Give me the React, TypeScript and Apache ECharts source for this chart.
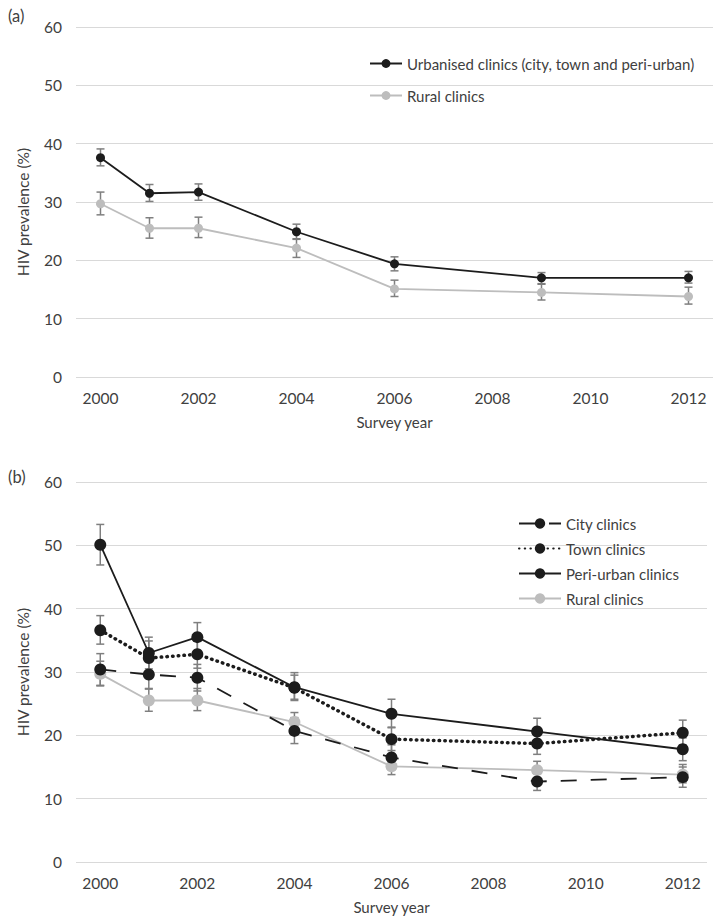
import React, { useEffect, useRef } from "react";
import * as echarts from "echarts";

// Axis categories (every year on the axis, labels on even years)
const allYears = ["2000", "2001", "2002", "2003", "2004", "2005", "2006", "2007", "2008", "2009", "2010", "2011", "2012"];
// Survey years with data
const surveyYears = ["2000", "2001", "2002", "2004", "2006", "2009", "2012"];

// Panel (a)
const urbanA = [37.6, 31.5, 31.7, 24.9, 19.4, 17.0, 17.0];
const urbanALow = [36.2, 30.1, 30.3, 23.7, 18.2, 16.0, 16.1];
const urbanAHigh = [39.1, 33.0, 33.1, 26.2, 20.6, 17.9, 18.1];
const rural = [29.7, 25.5, 25.5, 22.1, 15.1, 14.5, 13.8];
const ruralLow = [27.8, 23.8, 23.9, 20.5, 13.8, 13.2, 12.5];
const ruralHigh = [31.7, 27.3, 27.4, 23.6, 16.6, 15.9, 15.4];

// Panel (b)
const city = [30.4, 29.6, 29.1, 20.7, 16.5, 12.7, 13.4];
const cityLow = [27.9, 27.4, 27.0, 18.7, 14.6, 11.3, 11.8];
const cityHigh = [32.9, 31.8, 31.2, 22.8, 18.5, 14.2, 15.0];
const town = [36.6, 32.2, 32.8, 27.5, 19.4, 18.7, 20.4];
const townLow = [34.4, 29.6, 30.6, 25.5, 17.6, 17.0, 18.5];
const townHigh = [38.9, 34.9, 35.0, 29.5, 21.3, 20.5, 22.4];
const peri = [50.1, 33.0, 35.5, 27.6, 23.4, 20.6, 17.8];
const periLow = [46.9, 30.5, 33.2, 25.7, 21.2, 18.4, 16.0];
const periHigh = [53.3, 35.5, 37.8, 29.9, 25.7, 22.7, 19.6];

const yTicks = { min: 0, max: 60, interval: 10 };

const NAME_URBAN = "Urbanised clinics (city, town and peri-urban)";
const NAME_RURAL = "Rural clinics";
const NAME_CITY = "City clinics";
const NAME_TOWN = "Town clinics";
const NAME_PERI = "Peri-urban clinics";

const FONT = "Lato, 'Noto Sans', sans-serif";
const TEXT = "#404040";
const BLACK = "#1c1c1c";
const GREY = "#bdbdbd";
const ERR = "#7f7f7f";

function pairs(vals: number[]) {
  return surveyYears.map((y, i) => [y, vals[i]]);
}
function errData(low: number[], high: number[]) {
  return surveyYears.map((y, i) => [allYears.indexOf(y), low[i], high[i]]);
}

function errorSeries(idx: number, low: number[], high: number[], name: string) {
  return {
    type: "custom",
    name: name + " CI",
    xAxisIndex: idx,
    yAxisIndex: idx,
    z: 1,
    silent: true,
    encode: { x: 0, y: [1, 2] },
    data: errData(low, high),
    renderItem: (params: any, api: any) => {
      const x = api.value(0);
      const top = api.coord([x, api.value(2)]);
      const bot = api.coord([x, api.value(1)]);
      const hw = 4;
      const style = { stroke: ERR, lineWidth: 1.5 };
      return {
        type: "group",
        children: [
          { type: "line", shape: { x1: top[0], y1: top[1], x2: bot[0], y2: bot[1] }, style },
          { type: "line", shape: { x1: top[0] - hw, y1: top[1], x2: top[0] + hw, y2: top[1] }, style },
          { type: "line", shape: { x1: bot[0] - hw, y1: bot[1], x2: bot[0] + hw, y2: bot[1] }, style },
        ],
      };
    },
  };
}

function lineSeries(idx: number, name: string, vals: number[], color: string, size: number, lineStyle: any) {
  return {
    type: "line",
    name,
    xAxisIndex: idx,
    yAxisIndex: idx,
    z: 3,
    data: pairs(vals),
    symbol: "circle",
    symbolSize: size,
    itemStyle: { color },
    lineStyle: { color, width: 1.8, ...lineStyle },
  };
}

function xAxis(idx: number) {
  return {
    type: "category",
    gridIndex: idx,
    data: allYears,
    boundaryGap: true,
    axisLine: { show: false },
    axisTick: { show: false },
    axisLabel: { interval: 1, color: TEXT, fontSize: 15.5, fontFamily: FONT, margin: 13 },
    name: "Survey year",
    nameLocation: "middle",
    nameGap: 37,
    nameTextStyle: { color: TEXT, fontSize: 15, fontFamily: FONT },
  };
}

function yAxis(idx: number) {
  return {
    type: "value",
    gridIndex: idx,
    ...yTicks,
    axisLine: { show: false },
    axisTick: { show: false },
    splitLine: { lineStyle: { color: "#d9d9d9", width: 1 } },
    axisLabel: { color: TEXT, fontSize: 15.5, fontFamily: FONT, margin: 14 },
  };
}

export default function App() {
  const ref = useRef<HTMLDivElement>(null);
  useEffect(() => {
    if (!ref.current) return;
    const chart = echarts.init(ref.current, undefined, { renderer: "svg" });
    const legendText = { color: TEXT, fontSize: 15, fontFamily: FONT, lineHeight: 14 };
    chart.setOption({
      animation: false,
      backgroundColor: "#ffffff",
      grid: [
        { left: 76, top: 27, width: 637, height: 350 },
        { left: 76, top: 482, width: 631, height: 380 },
      ],
      xAxis: [xAxis(0), xAxis(1)],
      yAxis: [yAxis(0), yAxis(1)],
      legend: [
        {
          data: [NAME_URBAN, NAME_RURAL],
          orient: "vertical",
          left: 369,
          top: 56,
          padding: 0,
          itemWidth: 32,
          itemHeight: 11,
          itemGap: 17,
          textStyle: legendText,
          selectedMode: false,
        },
        {
          data: [NAME_CITY, NAME_TOWN, NAME_PERI, NAME_RURAL],
          orient: "vertical",
          left: 518,
          top: 516,
          padding: 0,
          itemWidth: 42,
          itemHeight: 13,
          itemGap: 10,
          textStyle: legendText,
          selectedMode: false,
        },
      ],
      graphic: [
        { type: "text", left: 8, top: 7, style: { text: "(a)", font: `16.5px ${FONT}`, fill: TEXT } },
        { type: "text", left: 8, top: 468, style: { text: "(b)", font: `16.5px ${FONT}`, fill: TEXT } },
        {
          type: "text",
          x: 23,
          y: 212,
          rotation: Math.PI / 2,
          style: { text: "HIV prevalence (%)", font: `15.5px ${FONT}`, fill: TEXT, align: "center", verticalAlign: "middle" },
        },
        {
          type: "text",
          x: 23,
          y: 672,
          rotation: Math.PI / 2,
          style: { text: "HIV prevalence (%)", font: `15.5px ${FONT}`, fill: TEXT, align: "center", verticalAlign: "middle" },
        },
      ],
      series: [
        errorSeries(0, urbanALow, urbanAHigh, NAME_URBAN),
        errorSeries(0, ruralLow, ruralHigh, NAME_RURAL),
        lineSeries(0, NAME_URBAN, urbanA, BLACK, 9, {}),
        lineSeries(0, NAME_RURAL, rural, GREY, 9, {}),
        errorSeries(1, cityLow, cityHigh, NAME_CITY),
        errorSeries(1, townLow, townHigh, NAME_TOWN),
        errorSeries(1, periLow, periHigh, NAME_PERI),
        errorSeries(1, ruralLow, ruralHigh, NAME_RURAL + " b"),
        lineSeries(1, NAME_RURAL, rural, GREY, 12, {}),
        lineSeries(1, NAME_CITY, city, BLACK, 12, { type: [16, 14], width: 1.8 }),
        lineSeries(1, NAME_TOWN, town, BLACK, 12, { type: [0.5, 5.2], cap: "round", width: 3.5 }),
        lineSeries(1, NAME_PERI, peri, BLACK, 12, {}),
      ],
    });
    return () => chart.dispose();
  }, []);
  return (
    <div
      ref={ref}
      style={{ position: "fixed", left: 0, top: 0, width: 723, height: 924, background: "#fff" }}
    />
  );
}
